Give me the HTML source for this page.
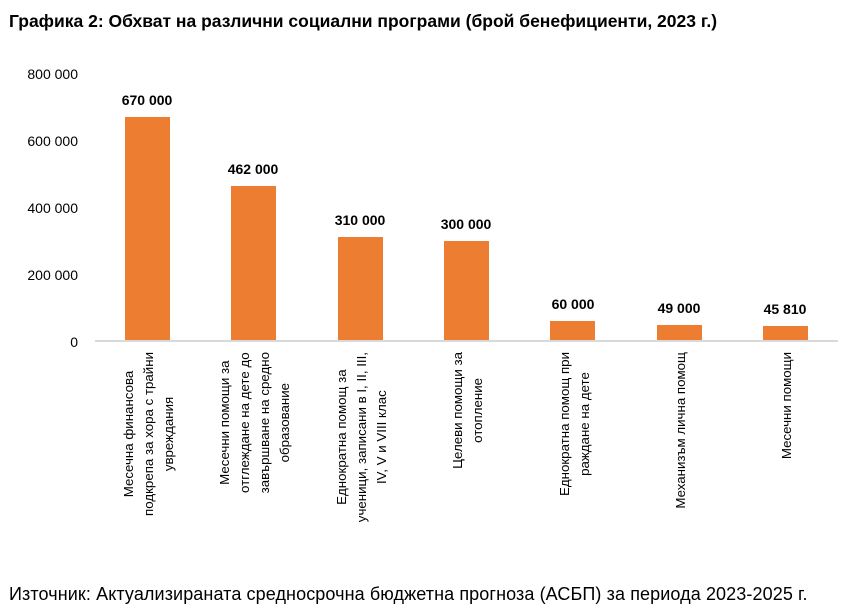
<!DOCTYPE html>
<html><head><meta charset="utf-8"><style>
html,body{margin:0;padding:0;background:#fff;}
body{width:863px;height:611px;position:relative;overflow:hidden;font-family:"Liberation Sans","DejaVu Sans",sans-serif;color:#000;}
.t{position:absolute;white-space:nowrap;}
.title{left:9px;top:11px;font-size:17.5px;font-weight:bold;letter-spacing:0px;}
.src{left:9px;top:584px;font-size:18px;letter-spacing:0.1px;}
.yl{position:absolute;right:785px;font-size:14px;transform:translateY(-50%);}
.bar{position:absolute;background:#ed7d31;width:45px;}
.dl{position:absolute;font-size:14px;font-weight:bold;transform:translateX(-50%);white-space:nowrap;}
.xl{position:absolute;top:352px;font-size:13.3px;line-height:20px;text-align:center;white-space:nowrap;transform-origin:0 0;transform:rotate(-90deg) translate(-100%,-50%);}
.axis{position:absolute;left:95px;top:340px;width:743px;height:2px;background:#d9d9d9;}
</style></head><body>
<div class="t title">Графика 2: Обхват на различни социални програми (брой бенефициенти, 2023 г.)</div>

<div class="yl" style="top:74px">800 000</div>
<div class="yl" style="top:141px">600 000</div>
<div class="yl" style="top:208px">400 000</div>
<div class="yl" style="top:275px">200 000</div>
<div class="yl" style="top:342px">0</div>

<div class="bar" style="left:125px;top:117px;height:224px"></div>
<div class="bar" style="left:231px;top:186px;height:155px"></div>
<div class="bar" style="left:338px;top:237px;height:104px"></div>
<div class="bar" style="left:444px;top:241px;height:100px"></div>
<div class="bar" style="left:550px;top:321px;height:20px"></div>
<div class="bar" style="left:657px;top:325px;height:16px"></div>
<div class="bar" style="left:763px;top:326px;height:15px"></div>
<div class="axis"></div>

<div class="dl" style="left:147px;top:92px">670 000</div>
<div class="dl" style="left:253px;top:161px">462 000</div>
<div class="dl" style="left:360px;top:212px">310 000</div>
<div class="dl" style="left:466px;top:216px">300 000</div>
<div class="dl" style="left:573px;top:296px">60 000</div>
<div class="dl" style="left:679px;top:300px">49 000</div>
<div class="dl" style="left:785px;top:301px">45 810</div>

<div class="xl" style="left:149px">Месечна финансова<br>подкрепа за хора с трайни<br>увреждания</div>
<div class="xl" style="left:255px">Месечни помощи за<br>отглеждане на дете до<br>завършване на средно<br>образование</div>
<div class="xl" style="left:362px">Еднократна помощ за<br>ученици, записани в I, II, III,<br>IV, V и VIII клас</div>
<div class="xl" style="left:468px">Целеви помощи за<br>отопление</div>
<div class="xl" style="left:575px">Еднократна помощ при<br>раждане на дете</div>
<div class="xl" style="left:681px">Механизъм лична помощ</div>
<div class="xl" style="left:787px">Месечни помощи</div>

<div class="t src">Източник: Актуализираната средносрочна бюджетна прогноза (АСБП) за периода 2023-2025 г.</div>
</body></html>
